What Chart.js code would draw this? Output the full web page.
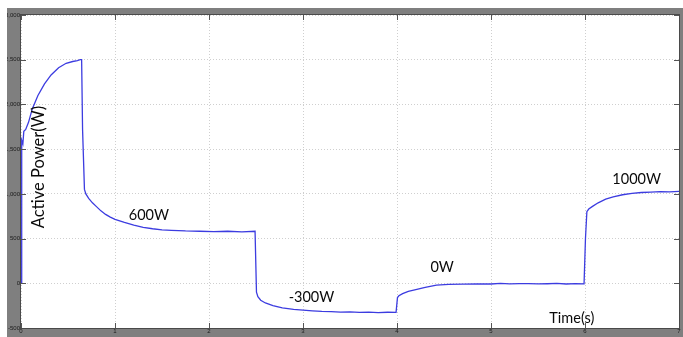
<!DOCTYPE html>
<html>
<head>
<meta charset="utf-8">
<script src="https://cdn.jsdelivr.net/npm/chart.js@4.4.1/dist/chart.umd.min.js"></script>
<style>
  html, body { margin: 0; padding: 0; background: #ffffff; }
  #wrap { width: 683px; height: 337px; position: relative; }
</style>
</head>
<body>
<div id="wrap"><canvas id="c" width="683" height="337"></canvas></div>
<script>
// Measured active power of the inverter over one load-step sequence
const timeS = [
  0, 0.005, 0.01, 0.02, 0.03, 0.05, 0.08, 0.12, 0.18, 0.25, 0.32, 0.4, 0.48, 0.55, 0.6, 0.63, 0.645,
  0.655, 0.675, 0.69, 0.72, 0.76, 0.8, 0.85, 0.9, 0.95, 1.0, 1.1, 1.2, 1.3, 1.4, 1.5, 1.6, 1.75, 1.9,
  2.05, 2.2, 2.35, 2.49,
  2.505, 2.52, 2.55, 2.6, 2.68, 2.78, 2.9, 3.0, 3.1, 3.2, 3.3, 3.4, 3.5, 3.6, 3.7, 3.8, 3.9, 3.99,
  4.005, 4.02, 4.06, 4.12, 4.2, 4.3, 4.42, 4.55, 4.7, 4.85, 5.0, 5.1, 5.2, 5.3, 5.4, 5.5, 5.6, 5.7, 5.8, 5.9, 5.99,
  6.005, 6.02, 6.04, 6.08, 6.14, 6.22, 6.3, 6.4, 6.5, 6.6, 6.7, 6.8, 6.9, 7.0
];
const powerW = [
  0, 900, 1600, 1560, 1700, 1720, 1800, 1950, 2100, 2230, 2330, 2410, 2460, 2480, 2490, 2500, 2500,
  1720, 1050, 1000, 950, 900, 860, 810, 770, 740, 715, 680, 650, 625, 610, 598, 592, 585, 582,
  578, 582, 575, 582,
  -100, -150, -190, -220, -250, -275, -292, -300, -308, -315, -318, -322, -320, -326, -322, -328, -324, -325,
  -160, -140, -115, -90, -70, -45, -20, -12, -10, -6, -8, -2, -6, -4, -3, -7, -5, -2, -8, -4, -6,
  500, 800, 830, 860, 900, 940, 965, 990, 1005, 1015, 1020, 1024, 1022, 1028
];
const yTicks = [3000, 2500, 2000, 1500, 1000, 500, 0, -500];
const xTicks = [0, 1, 2, 3, 4, 5, 6, 7];

// Text placed on the plot, anchored in data units
const notes = [
  { text: '600W', t: 1.36, p: 760 },
  { text: '-300W', t: 3.09, p: -157 },
  { text: '0W', t: 4.48, p: 179 },
  { text: '1000W', t: 6.55, p: 1163 },
  { text: 'Time(s)', t: 5.86, p: -391 }
];
const yTitle = { text: 'Active Power(W)', t: 0.19, p: 1300 };

const frame = {
  id: 'frame',
  beforeDraw(chart) {
    const { ctx, chartArea: a } = chart;
    ctx.save();
    ctx.fillStyle = '#ffffff';
    ctx.fillRect(0, 0, chart.width, chart.height);
    ctx.fillStyle = '#7f7f7f';
    ctx.fillRect(7, 8, chart.width - 7, chart.height - 8);
    ctx.fillStyle = '#ffffff';
    ctx.fillRect(a.left, a.top, a.right - a.left, a.bottom - a.top);
    ctx.restore();
  },
  afterDatasetsDraw(chart) {
    const { ctx, chartArea: a, scales } = chart;
    ctx.save();
    // inner tick marks along the plot edges
    ctx.strokeStyle = '#555555';
    ctx.lineWidth = 1;
    xTicks.forEach(v => {
      const x = Math.round(scales.x.getPixelForValue(v)) + 0.5;
      ctx.beginPath();
      ctx.moveTo(x, a.bottom); ctx.lineTo(x, a.bottom - 5);
      ctx.moveTo(x, a.top); ctx.lineTo(x, a.top + 5);
      ctx.stroke();
    });
    yTicks.forEach(v => {
      const y = Math.round(scales.y.getPixelForValue(v)) + 0.5;
      ctx.beginPath();
      ctx.moveTo(a.left, y); ctx.lineTo(a.left + 5, y);
      ctx.moveTo(a.right, y); ctx.lineTo(a.right - 5, y);
      ctx.stroke();
    });
    // plot border
    ctx.strokeStyle = '#4a4a4a';
    ctx.strokeRect(a.left - 0.5, a.top - 0.5, a.right - a.left + 1, a.bottom - a.top + 1);
    // annotations
    ctx.fillStyle = '#0a0a0a';
    ctx.font = '14.5px Lato, "Open Sans", sans-serif';
    ctx.textAlign = 'center';
    ctx.textBaseline = 'middle';
    notes.forEach(n => {
      ctx.fillText(n.text, scales.x.getPixelForValue(n.t), scales.y.getPixelForValue(n.p));
    });
    ctx.translate(scales.x.getPixelForValue(yTitle.t), scales.y.getPixelForValue(yTitle.p));
    ctx.rotate(-Math.PI / 2);
    ctx.font = '16.5px Lato, "Open Sans", sans-serif';
    ctx.fillText(yTitle.text, 0, 0);
    ctx.restore();
  }
};

new Chart(document.getElementById('c'), {
  type: 'line',
  data: {
    datasets: [{
      data: timeS.map((t, i) => ({ x: t, y: powerW[i] })),
      borderColor: '#3c3ce0',
      borderWidth: 1.3,
      pointRadius: 0,
      tension: 0,
      fill: false
    }]
  },
  options: {
    responsive: false,
    animation: false,
    devicePixelRatio: 1,
    layout: { padding: { left: 7, top: 15, right: 4, bottom: 0 } },
    plugins: { legend: { display: false }, tooltip: { enabled: false } },
    scales: {
      x: {
        type: 'linear',
        min: 0, max: 7,
        afterBuildTicks(s) { s.ticks = xTicks.map(v => ({ value: v })); },
        afterFit(s) { s.height = 9; },
        ticks: {
          padding: 0,
          maxRotation: 0,
          autoSkip: false,
          color: '#1a1a1a',
          font: { size: 6, family: 'Liberation Sans' }
        },
        grid: { color: '#cfcfcf', lineWidth: 1, drawTicks: false },
        border: { display: false, dash: [1, 2] }
      },
      y: {
        type: 'linear',
        min: -500, max: 3000,
        afterBuildTicks(s) { s.ticks = yTicks.map(v => ({ value: v })); },
        afterFit(s) { s.width = 14; },
        ticks: {
          padding: 1,
          autoSkip: false,
          color: '#1a1a1a',
          font: { size: 6, family: 'Liberation Sans' }
        },
        grid: { color: '#cfcfcf', lineWidth: 1, drawTicks: false },
        border: { display: false, dash: [1, 2] }
      }
    }
  },
  plugins: [frame]
});
</script>
</body>
</html>
